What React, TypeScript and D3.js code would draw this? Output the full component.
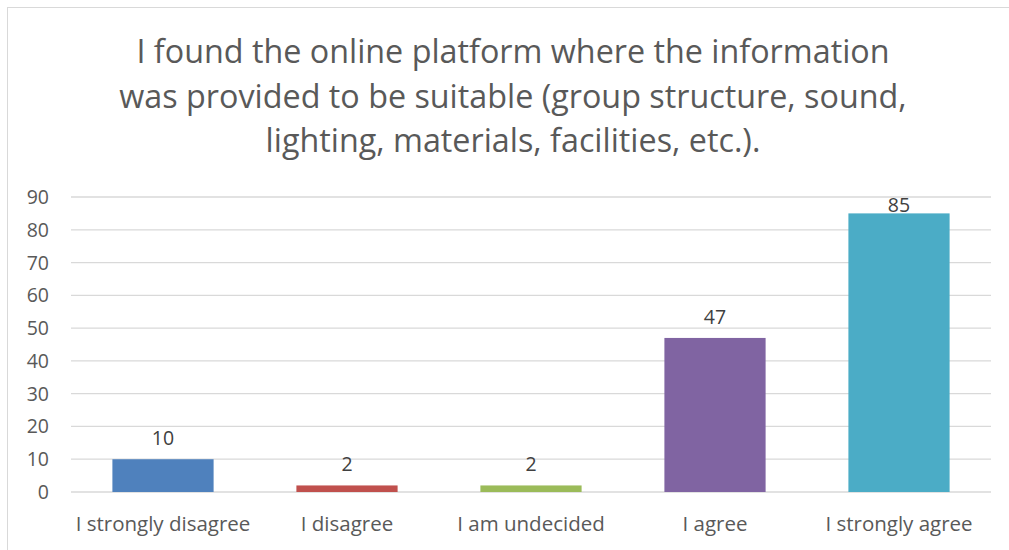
import React from "react";
import * as d3 from "d3";

const categories = ["I strongly disagree", "I disagree", "I am undecided", "I agree", "I strongly agree"];
const values = [10, 2, 2, 47, 85];
const colors = ["#4f81bd", "#c0504d", "#9bbb59", "#8064a2", "#4bacc6"];
const yTicks = [0, 10, 20, 30, 40, 50, 60, 70, 80, 90];
const titleLines = [
  "I found the online platform where the information",
  "was provided to be suitable (group structure, sound,",
  "lighting, materials, facilities, etc.).",
];

const W = 1009;
const H = 550;
const FONT = "'Open Sans', sans-serif";

export default function App() {
  const left = 71;
  const right = 991;
  const top = 197;
  const bottom = 492;
  const x = d3.scaleBand<string>().domain(categories).range([left, right]).paddingInner(0.45).paddingOuter(0.225);
  const y = d3.scaleLinear().domain([0, 90]).range([bottom, top]);

  return (
    <svg width={W} height={H} style={{ position: "absolute", left: 0, top: 0, background: "#fff" }}>
      <rect x={7.5} y={7.5} width={W + 20} height={H + 20} fill="#fff" stroke="#d9d9d9" strokeWidth={1} />
      {titleLines.map((t, i) => (
        <text key={i} x={513} y={63 + i * 44.5} textAnchor="middle" fontFamily={FONT} fontSize={32.3} fill="#595959">
          {t}
        </text>
      ))}
      {yTicks.map((t) => (
        <g key={t}>
          <line x1={left} x2={right} y1={y(t)} y2={y(t)} stroke="#d9d9d9" strokeWidth={1.3} />
          <text x={49} y={y(t) + 7} textAnchor="end" fontFamily={FONT} fontSize={19.5} fill="#595959">
            {t}
          </text>
        </g>
      ))}
      {categories.map((c, i) => {
        const bx = x(c)!;
        const bw = x.bandwidth();
        const yv = y(values[i]);
        const labelY = Math.max(yv - 14, top + 15);
        return (
          <g key={c}>
            <rect x={bx} y={yv} width={bw} height={bottom - yv} fill={colors[i]} />
            <text x={bx + bw / 2} y={labelY} textAnchor="middle" fontFamily={FONT} fontSize={19.5} fill="#404040">
              {values[i]}
            </text>
            <text x={bx + bw / 2} y={531} textAnchor="middle" fontFamily={FONT} fontSize={20.5} fill="#595959">
              {c}
            </text>
          </g>
        );
      })}
    </svg>
  );
}
